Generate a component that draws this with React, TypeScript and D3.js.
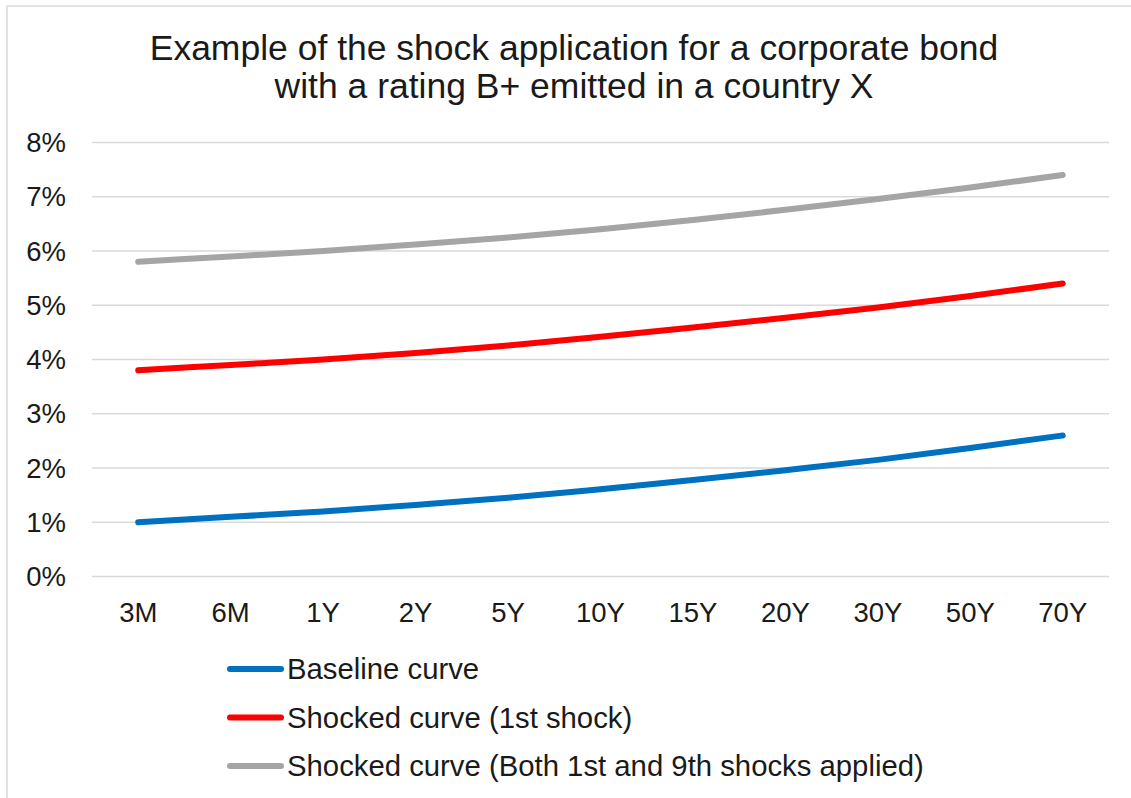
import React from "react";
import * as d3 from "d3";

const categories = ["3M", "6M", "1Y", "2Y", "5Y", "10Y", "15Y", "20Y", "30Y", "50Y", "70Y"];
const baseline = [1.0, 1.1, 1.2, 1.32, 1.45, 1.61, 1.78, 1.96, 2.15, 2.37, 2.6];
const shock1 = [3.8, 3.9, 4.0, 4.12, 4.26, 4.42, 4.59, 4.77, 4.96, 5.17, 5.4];
const shockBoth = [5.8, 5.9, 6.0, 6.12, 6.25, 6.4, 6.57, 6.76, 6.96, 7.17, 7.4];
const yTicks = [0, 1, 2, 3, 4, 5, 6, 7, 8];
const titleLines = [
  "Example of the shock application for a corporate bond",
  "with a rating B+ emitted in a country X",
];
const seriesNames = [
  "Baseline curve",
  "Shocked curve (1st shock)",
  "Shocked curve (Both 1st and 9th shocks applied)",
];
const seriesColors = ["#0070C0", "#FF0000", "#A5A5A5"];
const seriesData = [baseline, shock1, shockBoth];

const W = 1131;
const H = 798;
const font = "'Liberation Sans', Arial, sans-serif";

export default function App() {
  const x = d3.scaleBand<string>().domain(categories).range([92, 1109]);
  const y = d3.scaleLinear().domain([0, 8]).range([576.5, 142.5]);
  const line = d3
    .line<number>()
    .x((_, i) => (x(categories[i]) as number) + x.bandwidth() / 2)
    .y((d) => y(d))
    .curve(d3.curveMonotoneX);

  return (
    <svg
      width={W}
      height={H}
      style={{ position: "absolute", left: 0, top: 0, background: "#fff" }}
      fontFamily={font}
    >
      <rect x={0} y={0} width={W} height={H} fill="#fff" />
      <line x1={7} y1={6} x2={7} y2={H} stroke="#d9d9d9" strokeWidth={1.5} />
      <line x1={7} y1={6} x2={W} y2={6} stroke="#d9d9d9" strokeWidth={1.5} />
      {titleLines.map((t, i) => (
        <text key={t} x={574} y={60 + i * 38} textAnchor="middle" fontSize={35.5} fill="#1a1a1a">
          {t}
        </text>
      ))}
      {yTicks.map((t) => (
        <g key={t}>
          <line x1={92} x2={1109} y1={y(t)} y2={y(t)} stroke="#d9d9d9" strokeWidth={1.5} />
          <text x={66} y={y(t)} dy="0.35em" textAnchor="end" fontSize={27.5} fill="#1a1a1a">
            {t}%
          </text>
        </g>
      ))}
      {categories.map((c) => (
        <text
          key={c}
          x={(x(c) as number) + x.bandwidth() / 2}
          y={622}
          textAnchor="middle"
          fontSize={27.5}
          fill="#1a1a1a"
        >
          {c}
        </text>
      ))}
      {seriesData.map((s, i) => (
        <path
          key={i}
          d={line(s) || ""}
          fill="none"
          stroke={seriesColors[i]}
          strokeWidth={6}
          strokeLinecap="round"
          strokeLinejoin="round"
        />
      ))}
      {seriesNames.map((n, i) => (
        <g key={n}>
          <line
            x1={230}
            x2={281}
            y1={669 + i * 48.5}
            y2={669 + i * 48.5}
            stroke={seriesColors[i]}
            strokeWidth={6}
            strokeLinecap="round"
          />
          <text x={287} y={669 + i * 48.5} dy="0.35em" fontSize={29.3} fill="#1a1a1a">
            {n}
          </text>
        </g>
      ))}
    </svg>
  );
}
